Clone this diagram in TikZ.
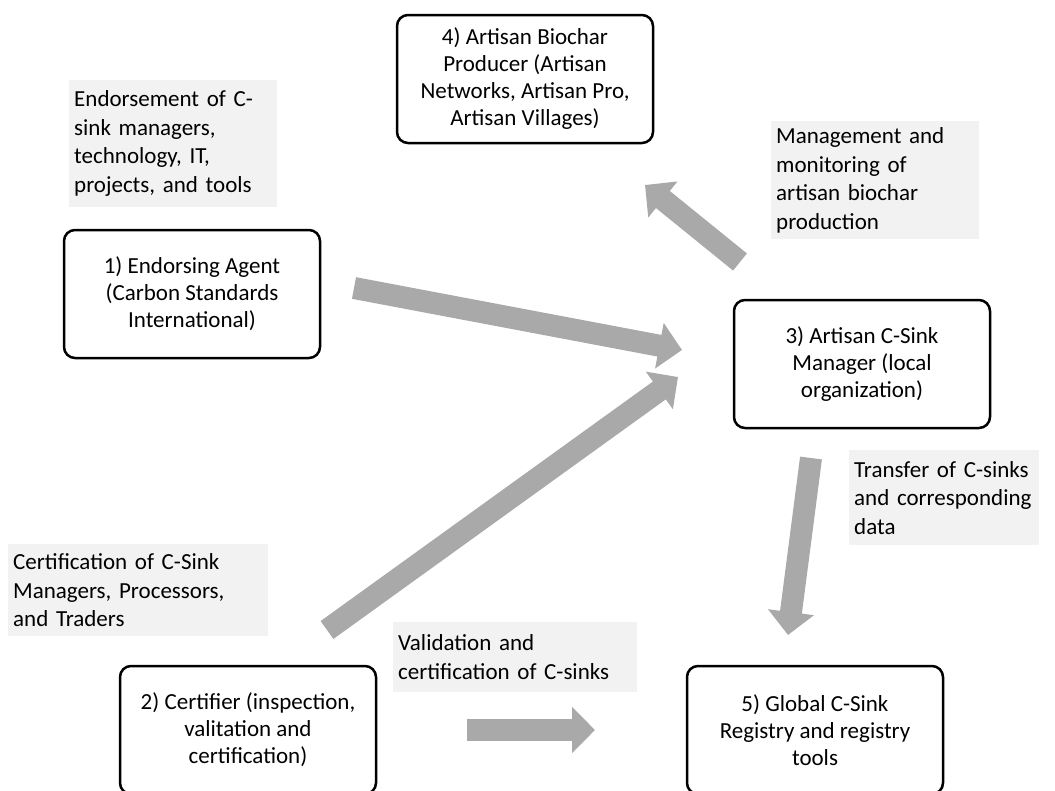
\documentclass[tikz,border=0pt]{standalone}
\usepackage{fontspec}
\setmainfont{Carlito}
\usetikzlibrary{arrows.meta}
\definecolor{arrowgray}{HTML}{A9A9A9}
\definecolor{labelgray}{HTML}{F2F2F2}

\begin{document}
\begin{tikzpicture}[x=1pt,y=-1pt,
    main node/.style={draw,rounded corners=11pt,line width=2.5pt,align=center,
      minimum width=256pt,minimum height=128pt,font=\fontsize{23}{27}\selectfont},
    label node/.style={fill=labelgray,anchor=north west,align=left,inner xsep=5pt,
      inner ysep=0pt,font=\fontsize{23}{28.5}\selectfont},
    flow/.style={draw=arrowgray,line width=22pt,-{Triangle[length=23pt,width=45pt]}}]
    \useasboundingbox (0,0) rectangle (1055,790);
    \node[main node] (4) at (525,79) {4) Artisan Biochar\\Producer (Artisan\\Networks, Artisan Pro,\\Artisan Villages)};
    \node[main node] (1) at (192,294) {1) Endorsing Agent\\(Carbon Standards\\International)};
    \node[main node] (3) at (862,364) {3) Artisan C-Sink\\Manager (local\\organization)};
    \node[main node] (2) at (248,730) {2) Certifier (inspection,\\valitation and\\certification)};
    \node[main node] (5) at (815,730) {5) Global C-Sink\\Registry and registry\\tools};
    % grey labels
    \node[label node,text width=198pt,minimum height=127pt] (endorse) at (69,80)
      {Endorsement of C-\\sink managers,\\technology, IT,\\projects, and tools};
    \node[label node,text width=198pt,minimum height=118pt] (monitor) at (771,121)
      {Management and\\monitoring of\\artisan biochar\\production};
    \node[label node,text width=180pt,minimum height=95pt] (transfer) at (849,450)
      {Transfer of C-sinks\\and corresponding\\data};
    \node[label node,text width=250pt,minimum height=92pt] (certify) at (8,544)
      {Certification of C-Sink\\Managers, Processors,\\and Traders};
    \node[label node,text width=234pt,minimum height=70pt] (validate) at (393,622)
      {Validation and\\certification of C-sinks};
    % arrow ends
    \coordinate (1t) at (354,288);
    \coordinate (1h) at (682,350);
    \coordinate (2t) at (327,630);
    \coordinate (2h) at (678,377);
    \coordinate (3t) at (740,262);
    \coordinate (3h) at (645,185);
    \coordinate (4t) at (811,458);
    \coordinate (4h) at (788,635);
    \coordinate (5t) at (467,730);
    \coordinate (5h) at (595,730);
    \path (1t) edge[flow] (1h)
    (2t) edge[flow] (2h)
    (3t) edge[flow] (3h)
    (4t) edge[flow] (4h)
    (5t) edge[flow] (5h);
\end{tikzpicture}
\end{document}
